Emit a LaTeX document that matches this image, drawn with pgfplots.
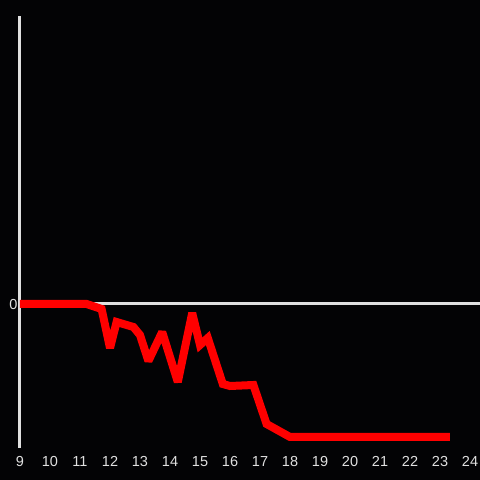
\documentclass[border=0pt]{standalone}
\usepackage{pgfplots}
\pgfplotsset{compat=1.18}
\usepackage{fontspec}
\setmainfont{Liberation Sans}
\definecolor{bg}{HTML}{030305}
\definecolor{axc}{HTML}{E0E0E0}
\begin{document}
\begin{tikzpicture}
\fill[bg] (0,0) rectangle (480pt,480pt);
\useasboundingbox (0,0) rectangle (480pt,480pt);
\begin{axis}[
  at={(20pt,32pt)}, anchor=south west,
  scale only axis, width=460pt, height=432pt,
  xmin=9, xmax=24.333, ymin=-144, ymax=288,
  axis line style={draw=none},
  major tick length=0pt,
  xtick={9,10,...,24}, ytick={0},
  tick label style={text=axc, font=\fontsize{14.5}{16}\selectfont},
  /pgf/number format/assume math mode=true,
  xticklabel style={yshift=-5pt},
  yticklabel style={xshift=1pt, yshift=-1pt},
  clip=false,
]
\addplot[axc, line width=3pt] coordinates {(9,0) (24.333,0)};
\addplot[axc, line width=3pt] coordinates {(9,-144) (9,288)};
\addplot[red, line width=8pt, line join=miter, miter limit=2] coordinates {
(9,0) (11.22,0) (11.72,-5) (12.0,-44) (12.22,-18) (12.78,-23) (13.0,-31)
(13.28,-57) (13.74,-28) (14.26,-78) (14.74,-9) (15.0,-41) (15.26,-34)
(15.76,-80) (16.0,-82) (16.78,-81) (17.22,-120) (18.0,-133) (23.33,-133)
};
\end{axis}
\end{tikzpicture}
\end{document}
